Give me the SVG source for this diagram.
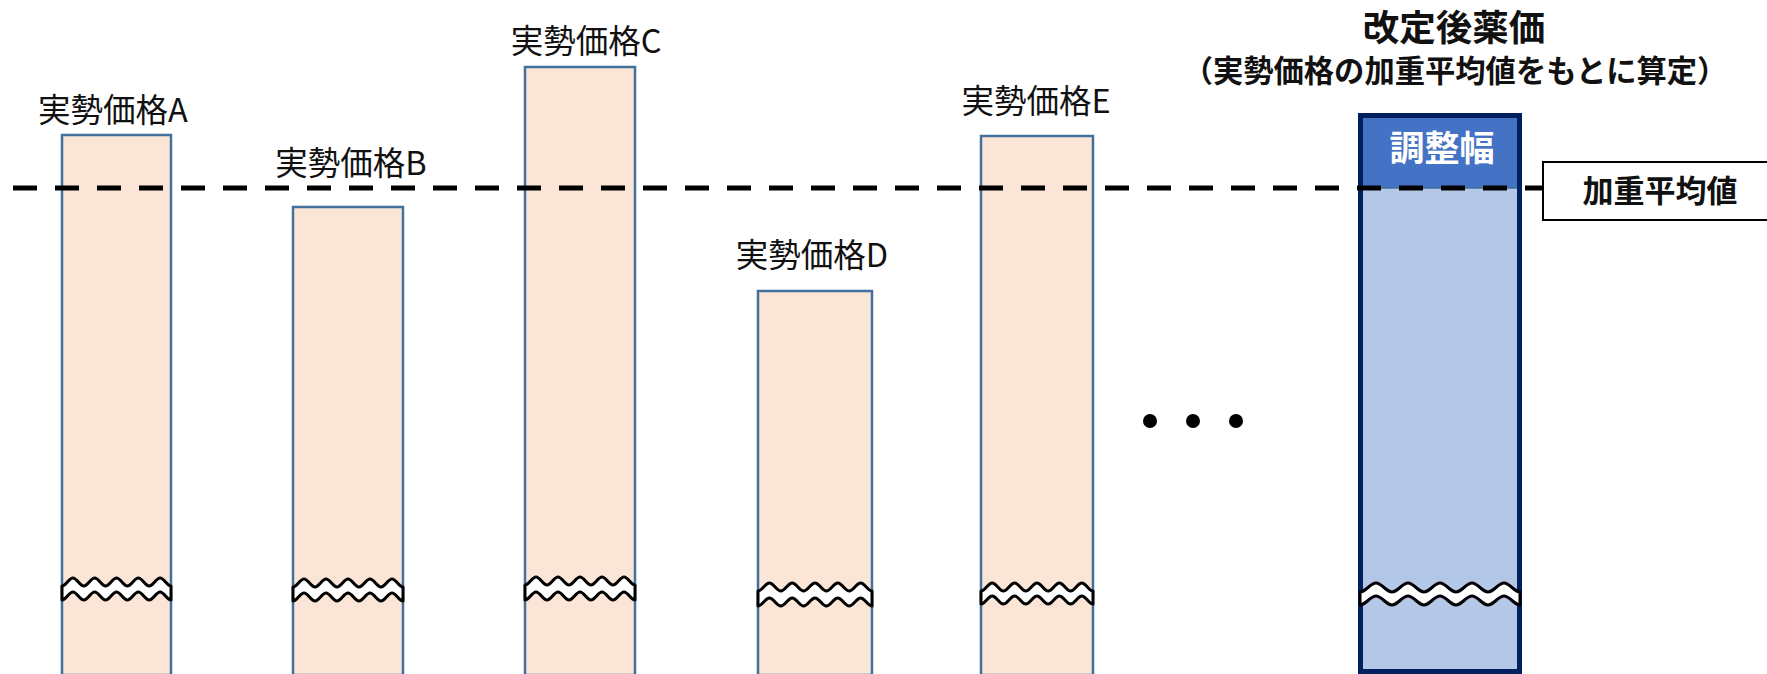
<svg xmlns="http://www.w3.org/2000/svg" width="1767" height="674" viewBox="0 0 1767 674">
<style>
.bar{fill:#FBE5D6;stroke:#41719C;stroke-width:2.5}
.lbl{font-family:"Noto Sans CJK JP","Noto Sans",sans-serif;font-size:32.5px;fill:#111;text-anchor:middle}
.bold{font-family:"Noto Sans CJK JP","Noto Sans",sans-serif;font-weight:bold;text-anchor:middle}
.wave{fill:#fff;stroke:#000;stroke-width:3;stroke-linejoin:round}
.dash{stroke:#000;stroke-width:5;stroke-dasharray:24 18;fill:none}
</style>
<rect width="1767" height="674" fill="#fff"/>
<g id="barA">
<rect class="bar" x="62" y="135" width="109" height="540"/>
<path class="wave" d="M62,586 c3.92,0 6.98,-8 10.9,-8 s6.98,8 10.9,8 s6.98,-8 10.9,-8 s6.98,8 10.9,8 s6.98,-8 10.9,-8 s6.98,8 10.9,8 s6.98,-8 10.9,-8 s6.98,8 10.9,8 s6.98,-8 10.9,-8 s6.98,8 10.9,8 L171,600 c-3.92,0 -6.98,-8 -10.9,-8 s-6.98,8 -10.9,8 s-6.98,-8 -10.9,-8 s-6.98,8 -10.9,8 s-6.98,-8 -10.9,-8 s-6.98,8 -10.9,8 s-6.98,-8 -10.9,-8 s-6.98,8 -10.9,8 s-6.98,-8 -10.9,-8 s-6.98,8 -10.9,8 Z"/>
<text class="lbl" x="113" y="122">実勢価格A</text>
</g>
<g id="barB">
<rect class="bar" x="293" y="207" width="110" height="468"/>
<path class="wave" d="M293,587 c3.96,0 7.04,-8 11,-8 s7.04,8 11,8 s7.04,-8 11,-8 s7.04,8 11,8 s7.04,-8 11,-8 s7.04,8 11,8 s7.04,-8 11,-8 s7.04,8 11,8 s7.04,-8 11,-8 s7.04,8 11,8 L403,601 c-3.96,0 -7.04,-8 -11,-8 s-7.04,8 -11,8 s-7.04,-8 -11,-8 s-7.04,8 -11,8 s-7.04,-8 -11,-8 s-7.04,8 -11,8 s-7.04,-8 -11,-8 s-7.04,8 -11,8 s-7.04,-8 -11,-8 s-7.04,8 -11,8 Z"/>
<text class="lbl" x="351" y="175">実勢価格B</text>
</g>
<g id="barC">
<rect class="bar" x="525" y="67" width="110" height="608"/>
<path class="wave" d="M525,585 c3.96,0 7.04,-8 11,-8 s7.04,8 11,8 s7.04,-8 11,-8 s7.04,8 11,8 s7.04,-8 11,-8 s7.04,8 11,8 s7.04,-8 11,-8 s7.04,8 11,8 s7.04,-8 11,-8 s7.04,8 11,8 L635,600 c-3.96,0 -7.04,-8 -11,-8 s-7.04,8 -11,8 s-7.04,-8 -11,-8 s-7.04,8 -11,8 s-7.04,-8 -11,-8 s-7.04,8 -11,8 s-7.04,-8 -11,-8 s-7.04,8 -11,8 s-7.04,-8 -11,-8 s-7.04,8 -11,8 Z"/>
<text class="lbl" x="586" y="53">実勢価格C</text>
</g>
<g id="barD">
<rect class="bar" x="758" y="291" width="114" height="384"/>
<path class="wave" d="M758,591 c4.1,0 7.3,-8 11.4,-8 s7.3,8 11.4,8 s7.3,-8 11.4,-8 s7.3,8 11.4,8 s7.3,-8 11.4,-8 s7.3,8 11.4,8 s7.3,-8 11.4,-8 s7.3,8 11.4,8 s7.3,-8 11.4,-8 s7.3,8 11.4,8 L872,606 c-4.1,0 -7.3,-8 -11.4,-8 s-7.3,8 -11.4,8 s-7.3,-8 -11.4,-8 s-7.3,8 -11.4,8 s-7.3,-8 -11.4,-8 s-7.3,8 -11.4,8 s-7.3,-8 -11.4,-8 s-7.3,8 -11.4,8 s-7.3,-8 -11.4,-8 s-7.3,8 -11.4,8 Z"/>
<text class="lbl" x="812" y="267">実勢価格D</text>
</g>
<g id="barE">
<rect class="bar" x="981" y="136" width="112" height="539"/>
<path class="wave" d="M981,591 c4.03,0 7.17,-8 11.2,-8 s7.17,8 11.2,8 s7.17,-8 11.2,-8 s7.17,8 11.2,8 s7.17,-8 11.2,-8 s7.17,8 11.2,8 s7.17,-8 11.2,-8 s7.17,8 11.2,8 s7.17,-8 11.2,-8 s7.17,8 11.2,8 L1093,604 c-4.03,0 -7.17,-8 -11.2,-8 s-7.17,8 -11.2,8 s-7.17,-8 -11.2,-8 s-7.17,8 -11.2,8 s-7.17,-8 -11.2,-8 s-7.17,8 -11.2,8 s-7.17,-8 -11.2,-8 s-7.17,8 -11.2,8 s-7.17,-8 -11.2,-8 s-7.17,8 -11.2,8 Z"/>
<text class="lbl" x="1036" y="113">実勢価格E</text>
</g>
<g id="dots">
<circle cx="1150" cy="421" r="7" fill="#000"/>
<circle cx="1193" cy="421" r="7" fill="#000"/>
<circle cx="1236" cy="421" r="7" fill="#000"/>
</g>
<g id="revised">
<rect x="1360.5" y="115.5" width="159" height="72.5" fill="#4472C4"/>
<rect x="1360.5" y="188" width="159" height="484" fill="#B4C7E7"/>
<line x1="1360" y1="188" x2="1520" y2="188" stroke="#41719C" stroke-width="1.5"/>
<rect x="1360.5" y="115.5" width="159" height="556" fill="none" stroke="#002060" stroke-width="5"/>
<path class="wave" d="M1360,592 c5.76,0 10.24,-9 16,-9 s10.24,9 16,9 s10.24,-9 16,-9 s10.24,9 16,9 s10.24,-9 16,-9 s10.24,9 16,9 s10.24,-9 16,-9 s10.24,9 16,9 s10.24,-9 16,-9 s10.24,9 16,9 L1520,605 c-5.76,0 -10.24,-9 -16,-9 s-10.24,9 -16,9 s-10.24,-9 -16,-9 s-10.24,9 -16,9 s-10.24,-9 -16,-9 s-10.24,9 -16,9 s-10.24,-9 -16,-9 s-10.24,9 -16,9 s-10.24,-9 -16,-9 s-10.24,9 -16,9 Z"/>
<text class="bold" x="1442" y="161" font-size="35" fill="#fff">調整幅</text>
<text class="bold" x="1454" y="41" font-size="36.5" fill="#111">改定後薬価</text>
<text class="bold" x="1455" y="82" font-size="30.3" fill="#111">（実勢価格の加重平均値をもとに算定）</text>
</g>
<g id="avgLabel">
<rect x="1543" y="162" width="226" height="58" fill="#fff" stroke="#000" stroke-width="2"/>
<text class="bold" x="1660" y="202" font-size="31" fill="#111">加重平均値</text>
</g>
<g id="connectors">
<line class="dash" x1="13" y1="188" x2="1543" y2="188"/>
</g>
</svg>
